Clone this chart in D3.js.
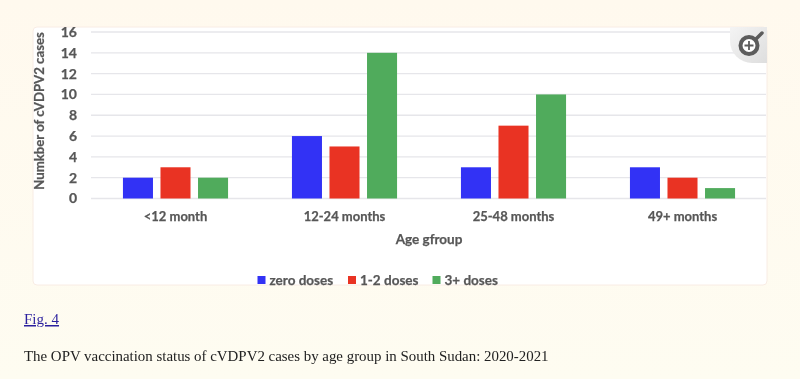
<!DOCTYPE html>
<html>
<head>
<meta charset="utf-8">
<script src="https://cdn.jsdelivr.net/npm/d3@7"></script>
<style>
    html, body { margin: 0; padding: 0; background: #fefbf0; overflow: hidden; }
    #chart { display: block; }
    .blurred { filter: blur(0.55px); }
    .soft { filter: blur(0.3px); }
    .tick-label, .axis-title, .legend-label { font-family: Lato, sans-serif; font-weight: 700; fill: #575757; stroke: #575757; stroke-width: 0.25px; }
    .caption { font-family: "Liberation Serif", serif; font-size: 14.9px; fill: #222; }
    .fig-link { font-family: "Liberation Serif", serif; font-size: 15px; fill: #2a1f9e; text-decoration: underline; }
</style>
</head>
<body>
<svg id="chart" width="800" height="379"></svg>
<script>
// values
const ageGroups = ["<12 month", "12-24 months", "25-48 months", "49+ months"];
const doseGroups = ["zero doses", "1-2 doses", "3+ doses"];
const zeroDoses = [2, 6, 3, 3];
const oneTwoDoses = [3, 5, 7, 2];
const threePlusDoses = [2, 14, 10, 1];
const yTicks = [0, 2, 4, 6, 8, 10, 12, 14, 16];
const doseColors = ["#3232f5", "#e93323", "#50ab5c"];

const seriesValues = [zeroDoses, oneTwoDoses, threePlusDoses];

const svg = d3.select("#chart");
const defs = svg.append("defs");

// page tint, slightly warmer at the top
const grad = defs.append("linearGradient")
    .attr("id", "page-bg").attr("x1", 0).attr("y1", 0).attr("x2", 0).attr("y2", 1);
grad.append("stop").attr("offset", "0%").attr("stop-color", "#fff9ee");
grad.append("stop").attr("offset", "100%").attr("stop-color", "#fefcf1");
svg.append("rect").attr("width", 800).attr("height", 379).attr("fill", "url(#page-bg)");

const badgeGrad = defs.append("linearGradient")
    .attr("id", "badge-bg").attr("x1", 0).attr("y1", 0).attr("x2", 1).attr("y2", 1);
badgeGrad.append("stop").attr("offset", "0%").attr("stop-color", "#f4f4f4");
badgeGrad.append("stop").attr("offset", "100%").attr("stop-color", "#dedede");

const chart = svg.append("g").attr("class", "blurred");

// card
chart.append("rect")
    .attr("x", 33).attr("y", 27)
    .attr("width", 734).attr("height", 258)
    .attr("rx", 4)
    .attr("fill", "#ffffff")
    .attr("stroke", "#f8ece4");

// scales
const x0 = d3.scaleBand().domain(ageGroups).range([91, 767]).paddingInner(0.378).paddingOuter(0.189);
const x1 = d3.scaleBand().domain(doseGroups).range([0, x0.bandwidth()]).paddingInner(0.2);
const y = d3.scaleLinear().domain([0, 16]).range([198.5, 32]);

// gridlines
chart.append("g")
    .selectAll("line")
    .data(yTicks)
    .enter().append("line")
    .attr("x1", 91)
    .attr("x2", 766)
    .attr("y1", d => y(d))
    .attr("y2", d => y(d))
    .attr("stroke", "#e6e6ea")
    .attr("stroke-width", 1.3);

// y axis
const yAxis = chart.append("g")
    .attr("transform", "translate(77,0)")
    .call(d3.axisLeft(y).tickValues(yTicks).tickSize(0).tickPadding(0));
yAxis.select(".domain").remove();
yAxis.selectAll("text").attr("class", "tick-label").style("font-size", "14px");

// x axis
const xAxis = chart.append("g")
    .attr("transform", "translate(0,212)")
    .call(d3.axisBottom(x0).tickSize(0).tickPadding(0));
xAxis.select(".domain").remove();
xAxis.selectAll("text").attr("class", "tick-label").style("font-size", "13px");

// bars
const groups = chart.append("g")
    .selectAll("g")
    .data(ageGroups)
    .enter().append("g")
    .attr("transform", d => `translate(${x0(d)},0)`);

groups.selectAll("rect")
    .data((d, i) => doseGroups.map((dose, s) => ({dose: dose, value: seriesValues[s][i], color: doseColors[s]})))
    .enter().append("rect")
    .attr("x", d => x1(d.dose))
    .attr("y", d => y(d.value))
    .attr("width", x1.bandwidth())
    .attr("height", d => y(0) - y(d.value))
    .attr("fill", d => d.color);

// axis titles
chart.append("text")
    .attr("class", "axis-title")
    .attr("transform", "translate(44,111) rotate(-90)")
    .attr("text-anchor", "middle")
    .attr("font-size", 13.2)
    .text("Numkber of cVDPV2 cases");

chart.append("text")
    .attr("class", "axis-title")
    .attr("x", 429)
    .attr("y", 244)
    .attr("text-anchor", "middle")
    .attr("font-size", 13.5)
    .text("Age gfroup");

// legend
const legendX = [257.5, 348, 432.5];
const legend = chart.append("g")
    .selectAll("g")
    .data(doseGroups)
    .enter().append("g")
    .attr("transform", (d, i) => `translate(${legendX[i]},280)`);

legend.append("rect")
    .attr("y", -4)
    .attr("width", 8)
    .attr("height", 8)
    .attr("fill", (d, i) => doseColors[i]);

legend.append("text")
    .attr("class", "legend-label")
    .attr("x", 12)
    .attr("y", 4.5)
    .attr("font-size", 13.5)
    .text(d => d);

// magnifier badge in the card corner
const badge = chart.append("g");
badge.append("path")
    .attr("d", "M730,27H767V63H752A22,22 0 0 1 730,41Z")
    .attr("fill", "url(#badge-bg)");
badge.append("line")
    .attr("x1", 756).attr("y1", 39).attr("x2", 762).attr("y2", 33)
    .attr("stroke", "#5c5c5c").attr("stroke-width", 3.5).attr("stroke-linecap", "round");
badge.append("circle")
    .attr("cx", 749).attr("cy", 45.5).attr("r", 8.5)
    .attr("fill", "#ffffff").attr("stroke", "#5c5c5c").attr("stroke-width", 4);
badge.append("path")
    .attr("d", "M744.5,45.5H753.5M749,41V50")
    .attr("stroke", "#5c5c5c").attr("stroke-width", 1.8);

// page text under the figure
const pageText = svg.append("g").attr("class", "soft");

pageText.append("text")
    .attr("class", "fig-link")
    .attr("x", 24)
    .attr("y", 324)
    .text("Fig. 4");

pageText.append("text")
    .attr("class", "caption")
    .attr("x", 24)
    .attr("y", 361)
    .text("The OPV vaccination status of cVDPV2 cases by age group in South Sudan: 2020-2021");
</script>
</body>
</html>
